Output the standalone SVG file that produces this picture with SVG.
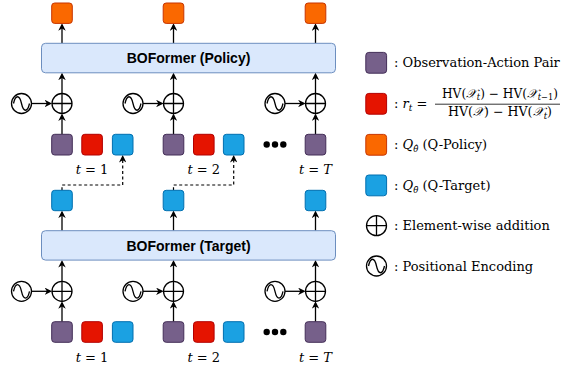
<svg xmlns="http://www.w3.org/2000/svg" width="564" height="368" viewBox="0 0 564 368">
<defs>
<style>
.pu{fill:#76608a;stroke:#432d57;stroke-width:1}
.rd{fill:#e51400;stroke:#b20000;stroke-width:1}
.or{fill:#fa6800;stroke:#c73500;stroke-width:1}
.bl{fill:#1ba1e2;stroke:#006eaf;stroke-width:1}
.box{fill:#dae8fc;stroke:#6c8ebf;stroke-width:1}
.ttl{font-family:"Liberation Sans",Arial,sans-serif;font-weight:bold;font-size:14px;fill:#000}
.lbl{font-family:"DejaVu Serif","Liberation Serif",serif;font-size:13px;fill:#000}
.mth{font-family:"DejaVu Serif","DejaVu Sans","Liberation Serif",serif;font-size:12.5px;fill:#000}
.ln{stroke:#000;stroke-width:1.3;fill:none}
.dl{stroke:#000;stroke-width:1.2;fill:none;stroke-dasharray:3 2.5}
.cir{fill:#fff;stroke:#000;stroke-width:1.3}
.dot{fill:#000}
</style>
<marker id="ah" viewBox="0 0 10 10" refX="7.2" refY="5" markerWidth="7.5" markerHeight="7.5" orient="auto" markerUnits="userSpaceOnUse">
<path d="M0,0 L10,5 L0,10 L3,5 z" fill="#000"/>
</marker>
<g id="plus"><circle class="cir" cx="0" cy="0" r="10"/><path class="ln" d="M-10,0 H10 M0,-10 V10"/></g>
<g id="sine"><circle class="cir" cx="0" cy="0" r="10"/><path class="ln" d="M-8,0 C-6,-9 -2,-9 0,0 C2,9 6,9 8,0"/></g>
</defs>

<g id="connectors">
<line class="ln" x1="62" y1="43.3" x2="62" y2="25.4" marker-end="url(#ah)"/>
<line class="ln" x1="62" y1="93.5" x2="62" y2="74.8" marker-end="url(#ah)"/>
<line class="ln" x1="62" y1="134.3" x2="62" y2="115.5" marker-end="url(#ah)"/>
<line class="ln" x1="31.5" y1="103.5" x2="50" y2="103.5" marker-end="url(#ah)"/>
<line class="ln" x1="173.5" y1="43.3" x2="173.5" y2="25.4" marker-end="url(#ah)"/>
<line class="ln" x1="173.5" y1="93.5" x2="173.5" y2="74.8" marker-end="url(#ah)"/>
<line class="ln" x1="173.5" y1="134.3" x2="173.5" y2="115.5" marker-end="url(#ah)"/>
<line class="ln" x1="143" y1="103.5" x2="161.5" y2="103.5" marker-end="url(#ah)"/>
<line class="ln" x1="315.5" y1="43.3" x2="315.5" y2="25.4" marker-end="url(#ah)"/>
<line class="ln" x1="315.5" y1="93.5" x2="315.5" y2="74.8" marker-end="url(#ah)"/>
<line class="ln" x1="315.5" y1="134.3" x2="315.5" y2="115.5" marker-end="url(#ah)"/>
<line class="ln" x1="285" y1="103.5" x2="303.5" y2="103.5" marker-end="url(#ah)"/>
<line class="ln" x1="62" y1="230.7" x2="62" y2="212.7" marker-end="url(#ah)"/>
<line class="ln" x1="62" y1="281.3" x2="62" y2="262.1" marker-end="url(#ah)"/>
<line class="ln" x1="62" y1="321.7" x2="62" y2="303.3" marker-end="url(#ah)"/>
<line class="ln" x1="31.5" y1="291.3" x2="50" y2="291.3" marker-end="url(#ah)"/>
<line class="ln" x1="173.5" y1="230.7" x2="173.5" y2="212.7" marker-end="url(#ah)"/>
<line class="ln" x1="173.5" y1="281.3" x2="173.5" y2="262.1" marker-end="url(#ah)"/>
<line class="ln" x1="173.5" y1="321.7" x2="173.5" y2="303.3" marker-end="url(#ah)"/>
<line class="ln" x1="143" y1="291.3" x2="161.5" y2="291.3" marker-end="url(#ah)"/>
<line class="ln" x1="315.5" y1="230.7" x2="315.5" y2="212.7" marker-end="url(#ah)"/>
<line class="ln" x1="315.5" y1="281.3" x2="315.5" y2="262.1" marker-end="url(#ah)"/>
<line class="ln" x1="315.5" y1="321.7" x2="315.5" y2="303.3" marker-end="url(#ah)"/>
<line class="ln" x1="285" y1="291.3" x2="303.5" y2="291.3" marker-end="url(#ah)"/>
<path class="dl" d="M62,190.3 V185 H122.7 V157.2" marker-end="url(#ah)"/>
<path class="dl" d="M173.5,190.3 V185 H233.7 V157.2" marker-end="url(#ah)"/>
</g>

<g id="policy">
<rect class="box" x="41.5" y="43.3" width="294" height="29.5" rx="4"/>
<text class="ttl" x="188.5" y="63.2" text-anchor="middle">BOFormer (Policy)</text>
</g>
<g id="target">
<rect class="box" x="41.5" y="230.7" width="294" height="29.4" rx="4"/>
<text class="ttl" x="188.5" y="250.6" text-anchor="middle">BOFormer (Target)</text>
</g>

<g id="q-policy-outputs">
<rect class="or" x="51.7" y="3" width="20.6" height="20.4" rx="3"/>
<rect class="or" x="163.2" y="3" width="20.6" height="20.4" rx="3"/>
<rect class="or" x="305.2" y="3" width="20.6" height="20.4" rx="3"/>
</g>
<g id="q-target-outputs">
<rect class="bl" x="51.7" y="190.3" width="20.6" height="20.4" rx="3"/>
<rect class="bl" x="163.2" y="190.3" width="20.6" height="20.4" rx="3"/>
<rect class="bl" x="305.2" y="190.3" width="20.6" height="20.4" rx="3"/>
</g>

<g id="upper-encoders">
<use href="#plus" x="62" y="103.5"/><use href="#sine" x="21.5" y="103.5"/>
<use href="#plus" x="173.5" y="103.5"/><use href="#sine" x="133" y="103.5"/>
<use href="#plus" x="315.5" y="103.5"/><use href="#sine" x="275" y="103.5"/>
</g>
<g id="lower-encoders">
<use href="#plus" x="62" y="291.3"/><use href="#sine" x="21.5" y="291.3"/>
<use href="#plus" x="173.5" y="291.3"/><use href="#sine" x="133" y="291.3"/>
<use href="#plus" x="315.5" y="291.3"/><use href="#sine" x="275" y="291.3"/>
</g>

<g id="upper-inputs">
<rect class="pu" x="51.7" y="134.3" width="20.6" height="20.7" rx="3"/>
<rect class="rd" x="81.8" y="134.3" width="20.6" height="20.7" rx="3"/>
<rect class="bl" x="112.4" y="134.3" width="20.6" height="20.7" rx="3"/>
<rect class="pu" x="163.2" y="134.3" width="20.6" height="20.7" rx="3"/>
<rect class="rd" x="193.5" y="134.3" width="20.6" height="20.7" rx="3"/>
<rect class="bl" x="223.4" y="134.3" width="20.6" height="20.7" rx="3"/>
<circle class="dot" cx="266.7" cy="144.5" r="3.2"/>
<circle class="dot" cx="275" cy="144.5" r="3.2"/>
<circle class="dot" cx="283.3" cy="144.5" r="3.2"/>
<rect class="pu" x="305.2" y="134.3" width="20.6" height="20.7" rx="3"/>
<text class="lbl" x="92" y="173.5" text-anchor="middle"><tspan font-style="italic">t</tspan> = 1</text>
<text class="lbl" x="203.8" y="173.5" text-anchor="middle"><tspan font-style="italic">t</tspan> = 2</text>
<text class="lbl" x="315.5" y="173.5" text-anchor="middle"><tspan font-style="italic">t</tspan> = <tspan font-style="italic">T</tspan></text>
</g>
<g id="lower-inputs">
<rect class="pu" x="51.7" y="321.7" width="20.6" height="20.6" rx="3"/>
<rect class="rd" x="81.8" y="321.7" width="20.6" height="20.6" rx="3"/>
<rect class="bl" x="112.4" y="321.7" width="20.6" height="20.6" rx="3"/>
<rect class="pu" x="163.2" y="321.7" width="20.6" height="20.6" rx="3"/>
<rect class="rd" x="193.5" y="321.7" width="20.6" height="20.6" rx="3"/>
<rect class="bl" x="223.4" y="321.7" width="20.6" height="20.6" rx="3"/>
<circle class="dot" cx="266.7" cy="332" r="3.2"/>
<circle class="dot" cx="275" cy="332" r="3.2"/>
<circle class="dot" cx="283.3" cy="332" r="3.2"/>
<rect class="pu" x="305.2" y="321.7" width="20.6" height="20.6" rx="3"/>
<text class="lbl" x="92" y="361.5" text-anchor="middle"><tspan font-style="italic">t</tspan> = 1</text>
<text class="lbl" x="203.8" y="361.5" text-anchor="middle"><tspan font-style="italic">t</tspan> = 2</text>
<text class="lbl" x="315.5" y="361.5" text-anchor="middle"><tspan font-style="italic">t</tspan> = <tspan font-style="italic">T</tspan></text>
</g>

<g id="legend">
<rect class="pu" x="365.8" y="52.4" width="20.8" height="20.8" rx="3"/>
<text class="lbl" x="394" y="67">: Observation-Action Pair</text>
<rect class="rd" x="365.8" y="93.4" width="20.8" height="20.8" rx="3"/>
<text class="lbl" x="394" y="108">: <tspan font-style="italic">r</tspan><tspan font-size="9" dy="2.5" font-style="italic">t</tspan><tspan dy="-2.5"> =</tspan></text>
<line x1="435" y1="104.2" x2="560" y2="104.2" stroke="#000" stroke-width="0.8"/>
<text class="mth" x="500" y="97.5" text-anchor="middle" textLength="116" lengthAdjust="spacingAndGlyphs">HV(<tspan font-style="italic">𝒳</tspan><tspan font-size="8.5" dy="2.5" font-style="italic">t</tspan><tspan dy="-2.5">) − HV(</tspan><tspan font-style="italic">𝒳</tspan><tspan font-size="8.5" dy="2.5"><tspan font-style="italic">t</tspan>−1</tspan><tspan dy="-2.5">)</tspan></text>
<text class="mth" x="500" y="116.2" text-anchor="middle" textLength="104" lengthAdjust="spacingAndGlyphs">HV(<tspan font-style="italic">𝒳</tspan>) − HV(<tspan font-style="italic">𝒳</tspan><tspan font-size="8.5" dy="2.5" font-style="italic">t</tspan><tspan dy="-2.5">)</tspan></text>
<rect class="or" x="365.8" y="134.4" width="20.8" height="20.8" rx="3"/>
<text class="lbl" x="394" y="149">: <tspan font-style="italic">Q</tspan><tspan font-size="8.5" dy="3" font-style="italic">θ̂</tspan><tspan dy="-3"> (Q-Policy)</tspan></text>
<rect class="bl" x="365.8" y="175" width="20.8" height="20.8" rx="3"/>
<text class="lbl" x="394" y="190">: <tspan font-style="italic">Q</tspan><tspan font-size="8.5" dy="3" font-style="italic">θ̄</tspan><tspan dy="-3"> (Q-Target)</tspan></text>
<use href="#plus" x="376.5" y="225.7"/>
<text class="lbl" x="394" y="230">: Element-wise addition</text>
<use href="#sine" x="376.5" y="266"/>
<text class="lbl" x="394" y="270.5">: Positional Encoding</text>
</g>
</svg>
